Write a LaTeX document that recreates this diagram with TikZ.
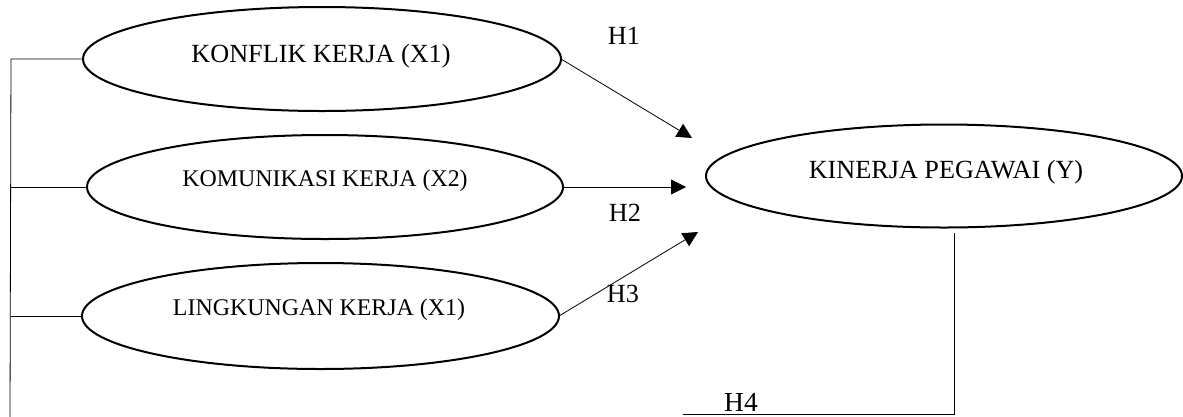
\documentclass[tikz,border=0pt]{standalone}
\usepackage{fontspec}
\setmainfont{Liberation Serif}
\usetikzlibrary{shapes.geometric,arrows.meta}
\tikzset{
  varbox/.style={ellipse,draw,line width=2pt,inner sep=0pt,outer sep=0pt},
  lbl/.style={anchor=base,inner sep=0pt,font=\fontsize{26.2}{30}\selectfont},
  lblsmall/.style={anchor=base,inner sep=0pt,font=\fontsize{23.9}{28}\selectfont},
  conn/.style={line width=0.8pt},
  arr/.style={conn,-{Triangle[length=15pt,width=15pt]}}
}
\begin{document}
\begin{tikzpicture}[x=1pt,y=-1pt]
\useasboundingbox (0,0) rectangle (1183,416);
% ellipses
\node[varbox,minimum width=478pt,minimum height=104pt] (e1) at (322,59) {};
\node[varbox,minimum width=476pt,minimum height=104pt] (e2) at (325,187) {};
\node[varbox,minimum width=477pt,minimum height=106pt] (e3) at (320.5,316) {};
\node[varbox,minimum width=476pt,minimum height=103pt] (ey) at (944,176) {};
% texts
\node[lbl] (t1) at (321,62) {KONFLIK KERJA (X1)};
\node[lblsmall] (t2) at (325,186) {KOMUNIKASI KERJA (X2)};
\node[lblsmall] (t3) at (319,315) {LINGKUNGAN KERJA (X1)};
\node[lbl] (ty) at (946,178) {KINERJA PEGAWAI (Y)};
% hypothesis labels
\node[lbl] (h1) at (624,44) {H1};
\node[lbl] (h2) at (625,221) {H2};
\node[lbl] (h3) at (623,302) {H3};
\node[lbl,font=\fontsize{27.5}{30}\selectfont] (h4) at (741,411.5) {H4};
% arrow end points
\coordinate (a1) at (692,138);
\coordinate (a2) at (686,187);
\coordinate (a3) at (698,232);
\draw[arr] (e1.east) -- (a1);
\draw[arr] (e2.east) -- (a2);
\draw[arr] (e3.east) -- (a3);
% left bus
\coordinate (bt) at (11,59);
\coordinate (bb) at (10,417);
\draw[conn] (e1.west) -- (bt) -- (bb);
\draw[conn] (e2.west) -- (e2.west -| bt);
\draw[conn] (e3.west) -- (e3.west -| bt);
% bottom line from Y
\coordinate (y1) at (954,233);
\coordinate (y2) at (954,414.5);
\coordinate (y3) at (683,414.5);
\draw[conn] (y1) -- (y2) -- (y3);
\end{tikzpicture}
\end{document}
